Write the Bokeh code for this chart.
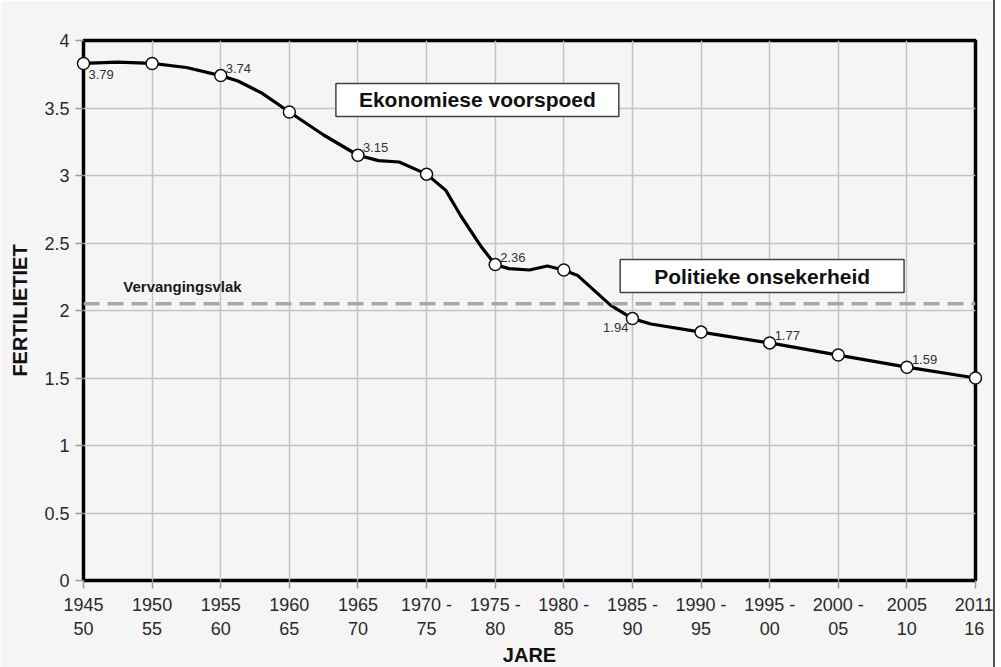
from bokeh.plotting import figure
from bokeh.models import (ColumnDataSource, FixedTicker, Span, Label, LabelSet, Range1d)
from bokeh.core.properties import value
from bokeh.embed import file_html
from bokeh.resources import INLINE

# ---- data ----
periods = ["1945\n50", "1950\n55", "1955\n60", "1960\n65", "1965\n70", "1970 -\n75",
           "1975 -\n80", "1980 -\n85", "1985 -\n90", "1990 -\n95", "1995 -\n00",
           "2000 -\n05", "2005\n10", "2011\n16"]
period_idx = list(range(len(periods)))
fertility = [3.83, 3.83, 3.74, 3.47, 3.15, 3.01, 2.34, 2.30, 1.94, 1.84, 1.76, 1.67, 1.58, 1.50]

# finer (yearly-ish) curve between the period points
curve_x = [0, 0.5, 1, 1.5, 2, 2.25, 2.6, 3, 3.5, 4, 4.3, 4.6, 5, 5.28, 5.5, 5.8, 6,
           6.2, 6.5, 6.76, 7, 7.2, 7.68, 8, 8.27, 9, 10, 11, 12, 13]
curve_y = [3.83, 3.84, 3.83, 3.80, 3.74, 3.70, 3.61, 3.47, 3.30, 3.15, 3.11, 3.10, 3.01,
           2.89, 2.70, 2.47, 2.34, 2.31, 2.30, 2.33, 2.30, 2.26, 2.04, 1.94, 1.90, 1.84,
           1.76, 1.67, 1.58, 1.50]

# value labels: (period index, printed text)
lab_below_right_idx = [0]
lab_below_right_txt = ["3.79"]
lab_above_right_idx = [2, 4, 6, 10, 12]
lab_above_right_txt = ["3.74", "3.15", "2.36", "1.77", "1.59"]
lab_below_left_idx = [8]
lab_below_left_txt = ["1.94"]

replacement_level = 2.05
y_ticks = [0, 0.5, 1, 1.5, 2, 2.5, 3, 3.5, 4]
y_tick_labels = ["0", "0.5", "1", "1.5", "2", "2.5", "3", "3.5", "4"]

FONT = "Liberation Sans"
BG = "#f5f5f5"

p = figure(frame_width=892, frame_height=540, width=993, height=659,
           x_range=Range1d(0, 13), y_range=Range1d(0, 4),
           output_backend="svg", toolbar_location=None,
           min_border_left=83, min_border_top=40, min_border_right=18, min_border_bottom=79,
           background_fill_color=BG, border_fill_color=BG)
p.styles = {"outline": "2px solid #555555", "outline-offset": "0px"}

p.outline_line_color = "black"
p.outline_line_width = 3.5

# axes
p.xaxis.ticker = FixedTicker(ticks=period_idx)
p.xaxis.major_label_overrides = {i: s for i, s in zip(period_idx, periods)}
p.yaxis.ticker = FixedTicker(ticks=y_ticks)
p.yaxis.major_label_overrides = {t: s for t, s in zip(y_ticks, y_tick_labels)}
for ax in (p.xaxis[0], p.yaxis[0]):
    ax.axis_line_color = None
    ax.major_tick_line_color = "#9a9a9a"
    ax.major_tick_line_width = 1.5
    ax.major_tick_out = 8
    ax.major_tick_in = 0
    ax.minor_tick_line_color = None
    ax.major_label_text_font = FONT
    ax.major_label_text_font_size = "18px"
    ax.major_label_text_color = "#2a2a2a"
    ax.axis_label_text_font = FONT
    ax.axis_label_text_font_style = "bold"
    ax.axis_label_text_font_size = "20px"
    ax.axis_label_text_color = "#111111"
p.xaxis.axis_label = "JARE"
p.yaxis.axis_label = "FERTILIETIET"
p.xaxis.major_label_standoff = 6
p.xaxis.axis_label_standoff = 2
p.yaxis.major_label_standoff = 6
p.yaxis.axis_label_standoff = 10

p.grid.grid_line_color = "#c4c4c4"
p.grid.grid_line_width = 1.5

# replacement level
p.add_layout(Span(location=replacement_level, dimension="width", line_color="#a8a8a8",
                  line_width=3.5, line_dash="16 8"))
p.add_layout(Label(x=0.58, y=replacement_level, y_offset=9, text="Vervangingsvlak",
                   text_font=FONT, text_font_style="bold", text_font_size="15px",
                   text_color="#1a1a1a", text_baseline="bottom"))

# curve + markers
p.line(curve_x, curve_y, line_color="black", line_width=3.2, line_join="round")
pts = p.scatter(period_idx, fertility, size=12, fill_color="white", line_color="#111111",
                line_width=1.5)
pts.level = "overlay"

def add_labels(idx, txt, xo, yo, align, baseline):
    src = ColumnDataSource(dict(x=idx, y=[fertility[i] for i in idx], t=txt))
    p.add_layout(LabelSet(x="x", y="y", text="t", source=src, x_offset=xo, y_offset=yo,
                          text_align=align, text_baseline=baseline, text_font=value(FONT),
                          text_font_size="13px", text_color="#333333"))

add_labels(lab_below_right_idx, lab_below_right_txt, 5, -7, "left", "top")
add_labels(lab_above_right_idx, lab_above_right_txt, 5, 3, "left", "bottom")
add_labels(lab_below_left_idx, lab_below_left_txt, -4, -4, "right", "top")

# period boxes
p.add_layout(Label(x=5.74, y=3.56, text="Ekonomiese voorspoed", text_align="center",
                   text_baseline="middle", text_font=FONT, text_font_style="bold",
                   text_font_size="21px", text_color="#111111",
                   background_fill_color="white", border_line_color="#444444",
                   border_line_width=1.5, padding=(23, 5)))
p.add_layout(Label(x=9.89, y=2.255, text="Politieke onsekerheid", text_align="center",
                   text_baseline="middle", text_font=FONT, text_font_style="bold",
                   text_font_size="21px", text_color="#111111",
                   background_fill_color="white", border_line_color="#444444",
                   border_line_width=1.5, padding=(34, 5)))

open("out.html", "w").write(file_html(p, INLINE))
